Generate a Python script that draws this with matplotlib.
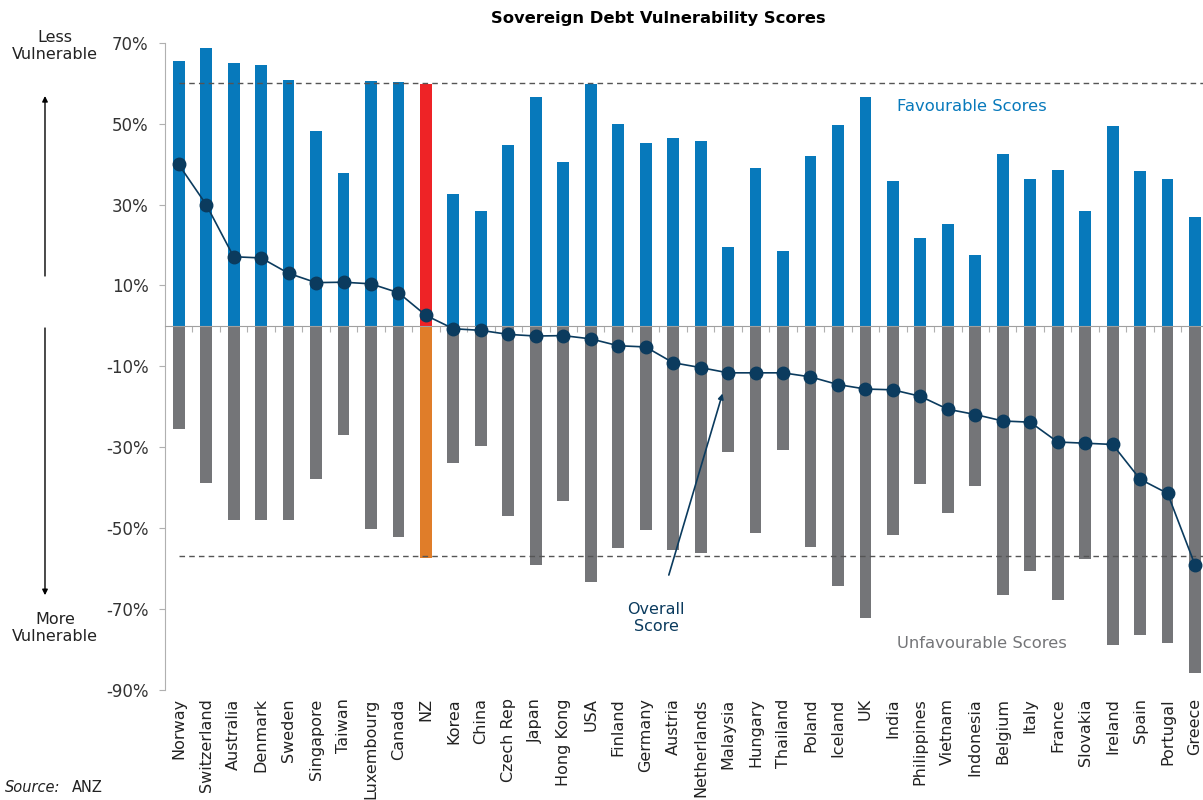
import numpy as np
import matplotlib
matplotlib.use('Agg')
import matplotlib.pyplot as plt
from matplotlib.ticker import FixedLocator

# data (percent)
countries = ['Norway', 'Switzerland', 'Australia', 'Denmark', 'Sweden', 'Singapore', 'Taiwan',
             'Luxembourg', 'Canada', 'NZ', 'Korea', 'China', 'Czech Rep', 'Japan', 'Hong Kong',
             'USA', 'Finland', 'Germany', 'Austria', 'Netherlands', 'Malaysia', 'Hungary',
             'Thailand', 'Poland', 'Iceland', 'UK', 'India', 'Philippines', 'Vietnam',
             'Indonesia', 'Belgium', 'Italy', 'France', 'Slovakia', 'Ireland', 'Spain',
             'Portugal', 'Greece']
favourable = [65.6, 68.8, 65.0, 64.6, 60.8, 48.3, 37.7, 60.5, 60.2, 59.8, 32.6, 28.4, 44.7,
              56.6, 40.6, 59.8, 49.9, 45.1, 46.4, 45.7, 19.4, 39.0, 18.5, 41.9, 49.6, 56.6,
              35.8, 21.7, 25.2, 17.5, 42.5, 36.3, 38.6, 28.4, 49.5, 38.3, 36.3, 26.8]
unfavourable = [-25.6, -38.9, -47.9, -47.9, -47.9, -37.9, -27.0, -50.1, -52.3, -57.4, -33.8,
                -29.6, -46.9, -59.1, -43.3, -63.2, -54.9, -50.4, -55.5, -56.2, -31.2, -51.1,
                -30.6, -54.6, -64.2, -72.1, -51.6, -39.2, -46.2, -39.5, -66.4, -60.6, -67.7,
                -57.5, -78.9, -76.3, -78.3, -85.9]
overall = [39.9, 30.0, 17.1, 16.8, 13.0, 10.7, 10.8, 10.4, 8.2, 2.6, -0.7, -1.1, -2.1, -2.5,
           -2.4, -3.2, -4.9, -5.2, -9.1, -10.3, -11.6, -11.6, -11.6, -12.6, -14.5, -15.6,
           -15.8, -17.4, -20.6, -21.9, -23.5, -23.8, -28.7, -29.0, -29.3, -37.9, -41.4, -59.1]
upper_ref = 60.0
lower_ref = -57.0
yticks = [70, 50, 30, 10, -10, -30, -50, -70, -90]

blue = '#0779BB'
grey = '#747578'
navy = '#0B3B5E'
nz_up = '#EE2326'
nz_down = '#E07D29'

x = np.arange(len(countries))
up_colors = [nz_up if c == 'NZ' else blue for c in countries]
down_colors = [nz_down if c == 'NZ' else grey for c in countries]

fig = plt.figure(figsize=(12.03, 8), dpi=100)
ax = fig.add_axes([0.1374, 0.1375, 0.8626, 0.8091])

ax.bar(x, favourable, width=0.43, color=up_colors, zorder=2)
ax.bar(x, unfavourable, width=0.43, color=down_colors, zorder=2)
ax.plot(x, overall, '-o', color=navy, lw=1.2, markersize=9, zorder=4)

ax.hlines([upper_ref, lower_ref], 0, len(countries), colors='#555555', linestyles=(0, (4, 3)),
          lw=1, zorder=3)

ax.set_xlim(-0.488, 37.29)
ax.set_ylim(-90, 70)

# bottom spine = zero line, with ticks between categories
ax.spines['bottom'].set_position(('data', 0))
ax.spines['bottom'].set_color('#a0a0a0')
ax.spines['bottom'].set_zorder(3)
ax.spines['top'].set_visible(False)
ax.spines['right'].set_visible(False)
ax.spines['left'].set_color('#b0b0b0')
ax.xaxis.set_major_locator(FixedLocator(x + 0.5))
ax.tick_params(axis='x', which='major', length=4, color='#b0b0b0', labelbottom=False)

# category labels below the plot
sec = ax.secondary_xaxis('bottom')
sec.spines['bottom'].set_visible(False)
sec.set_xticks(x)
sec.set_xticklabels(countries, rotation=90, fontsize=11.5, color='#222222')
sec.tick_params(length=0, pad=6)

ax.set_yticks(yticks)
ax.set_yticklabels([f'{t}%' for t in yticks], fontsize=12, color='#333333')
ax.tick_params(axis='y', length=4, color='#b0b0b0', pad=8)

fig.text(0.547, 0.977, 'Sovereign Debt Vulnerability Scores', ha='center', va='center',
         fontsize=11.8, fontweight='bold')

ax.text(26.15, 54.2, 'Favourable Scores', color=blue, fontsize=11.8, va='center')
ax.text(26.15, -78.6, 'Unfavourable Scores', color=grey, fontsize=11.8, va='center')
ax.annotate('Overall\nScore', xy=(19.8, -16.7), xytext=(17.38, -72.2), ha='center',
            va='center', color=navy, fontsize=11.5,
            arrowprops=dict(arrowstyle='-|>', color=navy, lw=1.2, shrinkA=18, shrinkB=0,
                            mutation_scale=8))

fig.text(0.0457, 0.9425, 'Less\nVulnerable', ha='center', va='center', fontsize=11.5,
         color='#222222')
fig.text(0.0457, 0.215, 'More\nVulnerable', ha='center', va='center', fontsize=11.5,
         color='#222222')
ax.annotate('', xy=(0.0374, 0.88), xytext=(0.0374, 0.655), xycoords='figure fraction',
            textcoords='figure fraction',
            arrowprops=dict(arrowstyle='-|>', color='black', lw=1, mutation_scale=8,
                            shrinkA=0, shrinkB=0))
ax.annotate('', xy=(0.0374, 0.256), xytext=(0.0374, 0.59), xycoords='figure fraction',
            textcoords='figure fraction',
            arrowprops=dict(arrowstyle='-|>', color='black', lw=1, mutation_scale=8,
                            shrinkA=0, shrinkB=0))

fig.text(0.004, 0.01, 'Source:', fontsize=10.5, style='italic', color='#222222')
fig.text(0.06, 0.01, 'ANZ', fontsize=10.5, color='#222222')

fig.savefig('out.png', dpi=100)
